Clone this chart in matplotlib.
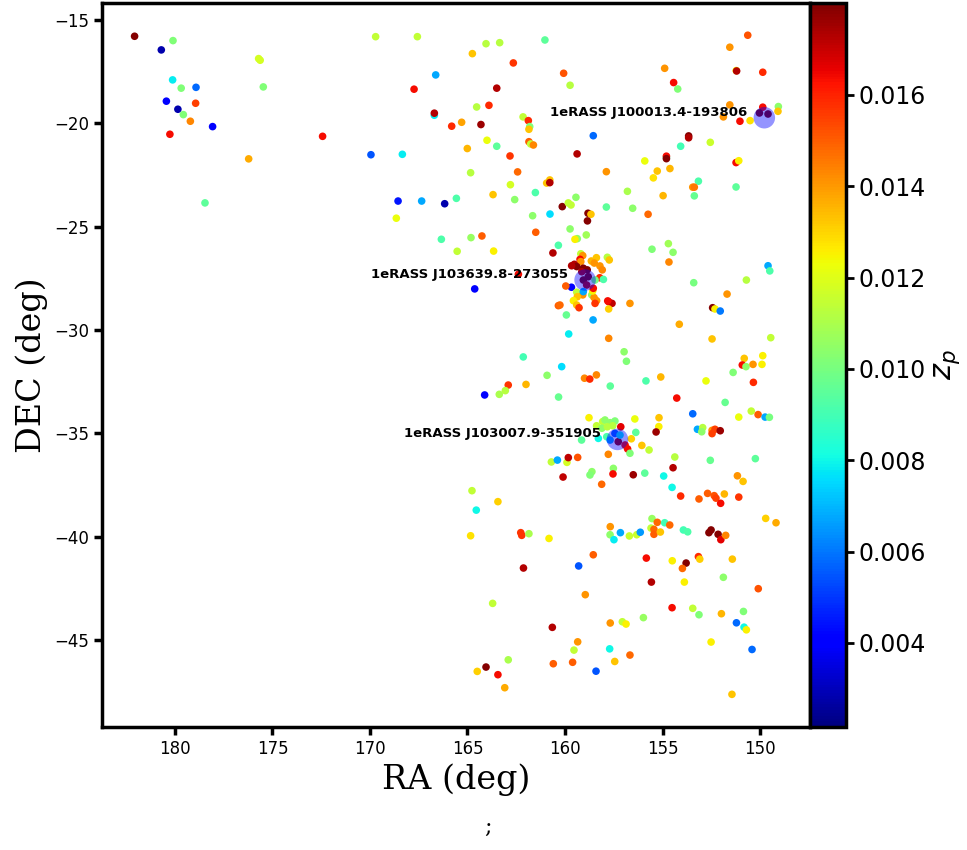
import numpy as np
import matplotlib
matplotlib.use("Agg")
import matplotlib.pyplot as plt

# galaxies: RA, DEC, photometric redshift
ra = [
    182.07, 180.10, 180.70, 175.71, 175.63, 180.12, 179.68, 178.92, 175.47, 180.44,
    178.94, 179.85, 179.57, 179.21, 178.07, 180.26, 172.43, 176.22, 178.46,
    169.71, 167.57, 161.03, 164.05, 163.35, 164.75, 162.65, 160.07, 166.63, 159.74,
    167.74, 163.50, 164.53, 163.90, 166.70, 166.70, 165.81, 165.30, 164.31, 162.15,
    161.88, 161.81, 161.85, 164.00, 163.50, 165.01, 161.85, 161.76, 161.62, 162.82,
    159.38, 169.95, 168.34, 162.43, 164.84, 162.80, 160.94, 160.78, 160.78, 163.69,
    161.52, 162.58, 168.56, 167.35, 166.17, 165.57, 168.65, 160.14, 159.83, 159.69,
    159.44, 161.66, 160.77, 161.50, 166.34, 164.82, 164.26, 160.34, 159.37, 159.49,
    150.63, 151.55, 154.89, 151.22, 151.20, 149.86, 154.43, 154.22, 151.55, 151.88,
    151.03, 150.51, 149.86, 150.03, 149.59, 149.06, 149.08, 158.55, 153.66, 153.66,
    154.07, 152.55, 154.80, 154.80, 154.80, 151.23, 151.09, 155.91, 155.27, 155.47,
    154.62, 157.88, 153.16, 153.45, 153.37, 153.37, 151.23, 154.97, 156.80, 157.88,
    156.53, 155.74, 158.82, 158.67, 158.85, 159.74, 158.91, 154.70,
    165.53, 163.66, 160.62, 162.39, 164.63, 159.67, 160.34, 160.26, 159.93, 159.81,
    162.14, 160.17, 160.92, 162.91, 162.00, 163.37, 163.06, 164.12, 160.33, 160.70,
    160.39, 159.90, 159.83, 159.35, 160.10, 164.77,
    155.54, 154.46, 154.67, 149.59, 149.50, 150.70, 153.40, 151.69, 152.43, 152.31,
    152.04, 156.67, 157.76, 157.59, 157.76, 158.56, 154.14, 152.46, 149.45, 157.76,
    156.97, 156.85, 150.81, 149.86, 150.91, 150.72, 150.36, 149.90, 151.38, 150.34,
    152.77, 155.09, 155.85, 157.68, 159.00, 158.73, 158.39, 154.27, 151.79, 153.45,
    151.09, 150.45, 150.10, 149.74, 149.52, 155.18, 155.19, 155.33, 156.42, 153.21,
    152.94, 152.99, 152.46, 152.31, 152.46, 152.04, 156.37, 156.06, 155.69, 156.60,
    156.79, 156.67, 157.78, 154.37, 152.55, 150.24, 154.46, 156.50, 155.91, 157.52,
    157.54, 158.62, 158.72, 154.94, 158.12, 154.51, 151.16, 150.87,
    163.44, 164.55, 164.84, 162.27, 162.22, 161.85, 160.82, 162.13, 159.30, 163.71,
    160.65, 159.35, 159.54, 159.61, 160.60, 162.91, 164.50, 164.05, 163.44, 163.09,
    154.07, 153.13, 152.69, 152.35, 152.26, 152.02, 151.83, 151.09, 149.71, 149.18,
    157.68, 157.69, 157.49, 157.16, 156.70, 156.32, 156.14, 155.54, 155.27, 155.59,
    155.44, 155.44, 155.11, 154.89, 154.63, 153.93, 153.71, 152.62, 152.51, 152.15,
    152.01, 151.76, 158.55, 155.83, 154.50, 153.79, 153.98, 153.16, 153.09, 151.42,
    155.57, 153.88, 151.88, 150.09, 158.96, 154.51, 153.45, 153.13, 151.98, 150.85,
    151.21, 150.82, 150.70, 157.68, 157.06, 156.87, 155.98, 157.71, 157.45, 156.67,
    158.41, 152.51, 150.41, 151.44,
    159.19, 159.09, 159.23, 159.19, 159.52, 159.40, 159.66, 158.65, 158.39, 158.50,
    157.83, 157.73, 158.21, 158.09, 159.06, 158.86, 159.14, 158.22, 158.03, 159.96,
    159.40, 159.09, 159.37, 158.63, 158.51, 158.58, 158.38, 158.46, 159.57, 159.40,
    159.28, 157.81, 159.06, 158.81, 158.89, 158.46, 158.55, 159.06,
    158.77, 158.38, 158.07, 157.95, 157.69, 157.44, 158.11, 157.83, 157.55, 157.14,
    159.15, 158.29, 157.86, 157.44, 157.69, 157.27, 156.92, 157.18,
]
dec = [
    -15.79, -16.00, -16.45, -16.87, -16.95, -17.90, -18.30, -18.26, -18.24, -18.93,
    -19.03, -19.32, -19.58, -19.90, -20.16, -20.53, -20.63, -21.72, -23.85,
    -15.81, -15.81, -15.97, -16.15, -16.10, -16.63, -17.08, -17.58, -17.66, -18.16,
    -18.35, -18.30, -19.21, -19.13, -19.61, -19.51, -20.14, -19.95, -20.06, -19.69,
    -19.87, -20.16, -20.29, -20.82, -21.11, -21.22, -20.89, -21.00, -21.05, -21.58,
    -21.48, -21.52, -21.50, -22.35, -22.39, -22.97, -22.89, -22.74, -22.87, -23.45,
    -23.35, -23.69, -23.76, -23.76, -23.89, -23.63, -24.59, -24.03, -23.85, -23.95,
    -23.58, -24.47, -24.39, -25.27, -25.61, -25.53, -25.45, -25.90, -25.58, -25.61,
    -15.74, -16.32, -17.34, -17.45, -17.47, -17.53, -18.03, -18.34, -19.11, -19.69,
    -19.90, -19.87, -19.22, -19.50, -19.55, -19.19, -19.42, -20.60, -20.61, -20.70,
    -21.11, -20.92, -21.65, -21.59, -21.71, -21.90, -21.81, -21.82, -22.31, -22.64,
    -22.19, -22.34, -22.80, -23.09, -23.09, -23.51, -23.08, -23.50, -23.29, -24.05,
    -24.11, -24.40, -24.35, -24.40, -24.72, -25.11, -25.40, -25.82,
    -26.19, -26.18, -26.27, -27.30, -28.01, -27.93, -28.82, -28.79, -29.27, -30.19,
    -31.30, -31.77, -32.19, -32.66, -32.63, -33.11, -32.93, -33.14, -33.24, -36.38,
    -36.29, -36.40, -36.17, -36.16, -37.11, -37.77,
    -26.09, -26.24, -26.71, -26.89, -27.14, -27.58, -27.71, -28.26, -28.92, -28.98,
    -29.08, -28.71, -28.63, -28.71, -28.98, -29.51, -29.72, -30.43, -30.37, -30.40,
    -31.05, -31.51, -31.37, -31.24, -31.69, -31.77, -31.66, -31.66, -32.05, -32.53,
    -32.46, -32.27, -32.46, -32.71, -32.33, -32.37, -32.17, -33.29, -33.50, -34.05,
    -34.21, -33.92, -34.09, -34.21, -34.22, -34.24, -34.67, -34.93, -34.30, -34.80,
    -34.72, -34.92, -34.85, -34.80, -35.01, -34.87, -34.95, -35.58, -35.80, -35.26,
    -35.75, -35.96, -36.01, -36.14, -36.30, -36.22, -36.66, -37.00, -36.92, -36.69,
    -36.96, -36.85, -37.01, -37.06, -37.46, -37.61, -37.05, -37.32,
    -38.30, -38.71, -39.95, -39.80, -39.93, -39.85, -40.08, -41.51, -41.41, -43.22,
    -44.38, -45.08, -45.48, -46.07, -46.14, -45.95, -46.51, -46.30, -46.67, -47.30,
    -38.03, -38.17, -37.90, -38.01, -38.13, -38.38, -37.93, -38.08, -39.11, -39.32,
    -39.51, -39.90, -40.14, -39.80, -39.96, -39.90, -39.78, -39.12, -39.30, -39.58,
    -39.64, -39.88, -39.77, -39.32, -39.43, -39.67, -39.76, -39.80, -39.67, -39.88,
    -40.14, -39.93, -40.87, -41.03, -41.16, -41.27, -41.53, -40.96, -41.08, -41.08,
    -42.19, -42.19, -41.96, -42.51, -42.80, -43.43, -43.46, -43.77, -43.72, -43.61,
    -44.16, -44.37, -44.50, -44.17, -44.11, -44.22, -43.91, -45.42, -46.03, -45.72,
    -46.50, -45.09, -45.45, -47.62,
    -26.31, -26.40, -26.58, -26.69, -26.82, -26.93, -26.89, -26.66, -26.50, -26.76,
    -26.48, -26.61, -26.90, -27.09, -27.01, -27.09, -27.18, -27.47, -27.55, -27.87,
    -28.17, -28.30, -28.39, -28.30, -28.43, -28.11, -28.58, -28.71, -28.58, -28.79,
    -28.92, -28.59, -27.58, -27.42, -27.82, -27.58, -27.98, -28.14,
    -34.24, -34.63, -34.43, -34.35, -34.48, -34.40, -34.75, -34.68, -34.63, -34.68,
    -35.32, -35.24, -35.16, -35.00, -35.32, -35.40, -35.56, -35.08,
]
zp = [
    0.0179, 0.0102, 0.0028, 0.0118, 0.0118, 0.0078, 0.0102, 0.0058, 0.0102, 0.0040,
    0.0155, 0.0028, 0.0102, 0.0143, 0.0040, 0.0164, 0.0164, 0.0137, 0.0095,
    0.0114, 0.0114, 0.0095, 0.0112, 0.0112, 0.0133, 0.0157, 0.0152, 0.0068, 0.0112,
    0.0164, 0.0173, 0.0112, 0.0159, 0.0078, 0.0173, 0.0159, 0.0138, 0.0176, 0.0114,
    0.0159, 0.0102, 0.0133, 0.0122, 0.0095, 0.0135, 0.0150, 0.0114, 0.0143, 0.0157,
    0.0173, 0.0055, 0.0078, 0.0148, 0.0112, 0.0118, 0.0133, 0.0133, 0.0173, 0.0133,
    0.0092, 0.0104, 0.0045, 0.0068, 0.0028, 0.0092, 0.0122, 0.0179, 0.0114, 0.0114,
    0.0104, 0.0104, 0.0076, 0.0150, 0.0092, 0.0106, 0.0150, 0.0092, 0.0104, 0.0125,
    0.0152, 0.0141, 0.0141, 0.0125, 0.0173, 0.0159, 0.0164, 0.0102, 0.0141, 0.0141,
    0.0164, 0.0128, 0.0164, 0.0179, 0.0179, 0.0104, 0.0133, 0.0058, 0.0179, 0.0173,
    0.0090, 0.0116, 0.0090, 0.0164, 0.0179, 0.0164, 0.0125, 0.0122, 0.0133, 0.0128,
    0.0135, 0.0141, 0.0092, 0.0141, 0.0146, 0.0097, 0.0095, 0.0135, 0.0110, 0.0095,
    0.0104, 0.0148, 0.0179, 0.0133, 0.0179, 0.0104, 0.0108, 0.0108,
    0.0114, 0.0125, 0.0173, 0.0164, 0.0040, 0.0040, 0.0150, 0.0148, 0.0097, 0.0078,
    0.0090, 0.0076, 0.0104, 0.0157, 0.0135, 0.0110, 0.0112, 0.0040, 0.0097, 0.0114,
    0.0068, 0.0118, 0.0171, 0.0152, 0.0171, 0.0114,
    0.0102, 0.0104, 0.0143, 0.0068, 0.0092, 0.0112, 0.0100, 0.0141, 0.0179, 0.0125,
    0.0060, 0.0141, 0.0164, 0.0171, 0.0131, 0.0068, 0.0137, 0.0133, 0.0114, 0.0143,
    0.0104, 0.0102, 0.0133, 0.0125, 0.0164, 0.0104, 0.0141, 0.0125, 0.0102, 0.0159,
    0.0122, 0.0135, 0.0092, 0.0095, 0.0143, 0.0159, 0.0143, 0.0164, 0.0097, 0.0058,
    0.0122, 0.0114, 0.0150, 0.0068, 0.0100, 0.0133, 0.0125, 0.0176, 0.0122, 0.0068,
    0.0112, 0.0104, 0.0141, 0.0155, 0.0155, 0.0176, 0.0095, 0.0133, 0.0114, 0.0131,
    0.0164, 0.0102, 0.0143, 0.0112, 0.0097, 0.0095, 0.0173, 0.0176, 0.0095, 0.0104,
    0.0164, 0.0104, 0.0102, 0.0080, 0.0148, 0.0080, 0.0141, 0.0133,
    0.0131, 0.0080, 0.0128, 0.0157, 0.0157, 0.0110, 0.0125, 0.0173, 0.0055, 0.0114,
    0.0173, 0.0141, 0.0114, 0.0150, 0.0150, 0.0110, 0.0131, 0.0179, 0.0164, 0.0137,
    0.0159, 0.0150, 0.0150, 0.0152, 0.0155, 0.0164, 0.0135, 0.0157, 0.0131, 0.0137,
    0.0141, 0.0104, 0.0078, 0.0068, 0.0116, 0.0116, 0.0065, 0.0106, 0.0148, 0.0114,
    0.0148, 0.0150, 0.0133, 0.0090, 0.0148, 0.0090, 0.0092, 0.0179, 0.0179, 0.0179,
    0.0166, 0.0143, 0.0150, 0.0164, 0.0125, 0.0179, 0.0148, 0.0159, 0.0131, 0.0133,
    0.0173, 0.0125, 0.0104, 0.0152, 0.0141, 0.0164, 0.0114, 0.0102, 0.0135, 0.0102,
    0.0058, 0.0080, 0.0125, 0.0141, 0.0114, 0.0125, 0.0106, 0.0080, 0.0133, 0.0148,
    0.0055, 0.0125, 0.0058, 0.0133,
    0.0114, 0.0141, 0.0164, 0.0141, 0.0173, 0.0179, 0.0173, 0.0135, 0.0133, 0.0141,
    0.0112, 0.0133, 0.0141, 0.0143, 0.0179, 0.0179, 0.0173, 0.0159, 0.0092, 0.0150,
    0.0114, 0.0141, 0.0133, 0.0104, 0.0141, 0.0125, 0.0141, 0.0157, 0.0125, 0.0133,
    0.0157, 0.0164, 0.0179, 0.0179, 0.0173, 0.0100, 0.0164, 0.0068,
    0.0125, 0.0114, 0.0114, 0.0104, 0.0104, 0.0102, 0.0104, 0.0112, 0.0112, 0.0166,
    0.0095, 0.0080, 0.0092, 0.0058, 0.0068, 0.0176, 0.0164, 0.0078,
]

# eRASS clusters
cl_names = ["1eRASS J100013.4-193806", "1eRASS J103639.8-273055", "1eRASS J103007.9-351905"]
cl_ra = [149.78, 158.97, 157.31]
cl_dec = [-19.73, -27.58, -35.29]

fig = plt.figure(figsize=(9.67, 8.5), dpi=100)
ax = fig.add_axes([0.1055, 0.1447, 0.7321, 0.8518])
cax = fig.add_axes([0.8376, 0.1447, 0.037, 0.8518])

sc = ax.scatter(ra, dec, c=zp, cmap="jet", s=30, vmin=0.00216, vmax=0.01801,
                edgecolors="none")
ax.scatter(cl_ra, cl_dec, s=240, color="blue", alpha=0.42, edgecolors="none")
for name, x, y in zip(cl_names, cl_ra, cl_dec):
    ax.annotate(name, (x, y), xytext=(-12, 4), textcoords="offset points",
                ha="right", va="center", fontsize=9.5, fontweight="bold")

ax.set_xlim(183.74, 147.44)
ax.set_ylim(-49.2, -14.18)
ax.set_xticks([180, 175, 170, 165, 160, 155, 150])
ax.set_yticks([-15, -20, -25, -30, -35, -40, -45])
ax.tick_params(axis="both", labelsize=12, width=2.5, length=6)
for sp in ax.spines.values():
    sp.set_linewidth(2.5)
ax.set_xlabel("RA (deg)", family="DejaVu Serif", fontsize=24)
ax.set_ylabel("DEC (deg)", family="DejaVu Serif", fontsize=24)

cb = fig.colorbar(sc, cax=cax)
cb.set_ticks([0.004, 0.006, 0.008, 0.010, 0.012, 0.014, 0.016])
cb.ax.tick_params(labelsize=17, width=2, length=6)
cb.outline.set_linewidth(2.5)
cb.set_label("$z_p$", fontsize=22)

fig.text(0.505, 0.02, ";", fontsize=16, family="DejaVu Serif", ha="center")

fig.savefig("out.png", dpi=100)
